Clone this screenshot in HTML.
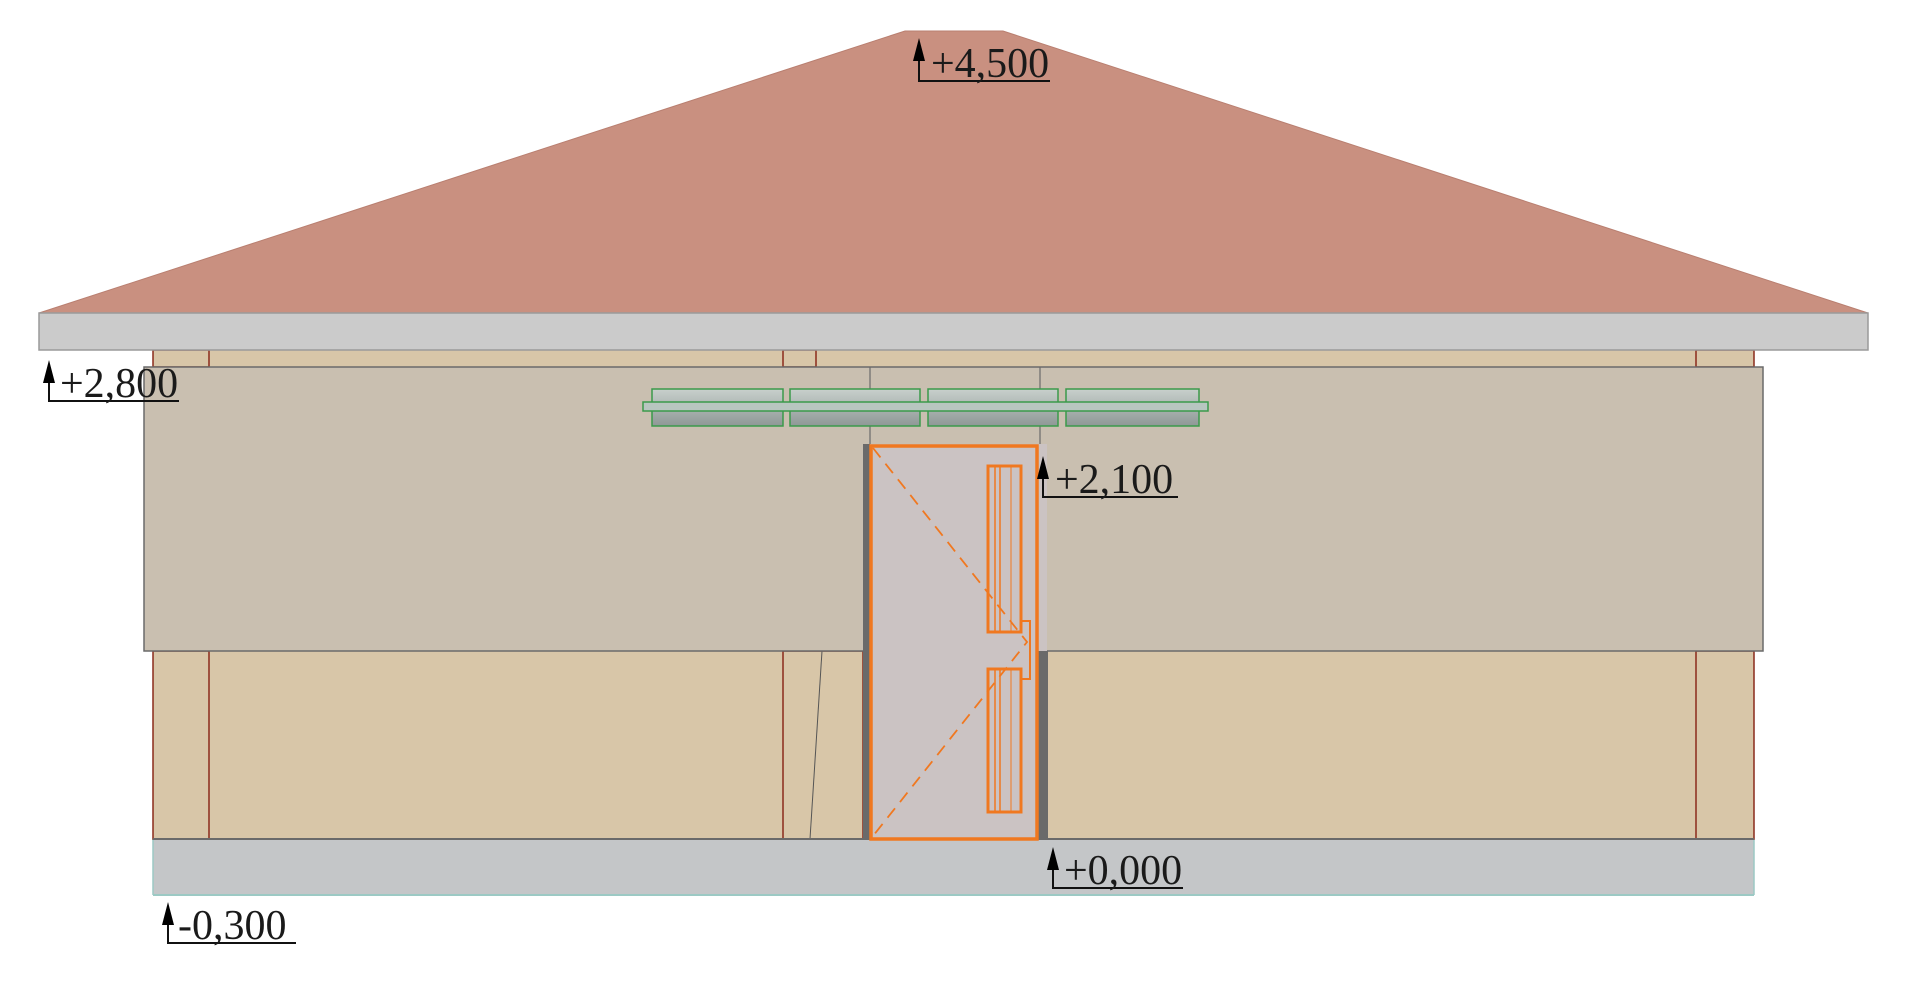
<!DOCTYPE html>
<html><head><meta charset="utf-8"><style>
html,body{margin:0;padding:0;background:#fff;}
svg{display:block;}
text{font-family:"Liberation Serif",serif;font-size:42px;fill:#1a1a1a;}
</style></head><body>
<svg width="1920" height="984" viewBox="0 0 1920 984" xmlns="http://www.w3.org/2000/svg">
<rect width="1920" height="984" fill="#fff"/>
<!-- roof -->
<polygon points="39,313 905,31 1003,31 1868,313" fill="#c99080" stroke="#b97f70" stroke-width="1"/>
<!-- strip under fascia -->
<rect x="153" y="350" width="1601" height="17" fill="#d8c6a8"/>
<rect x="153" y="350" width="56" height="17" fill="#d8c6a8" stroke="#8a2a1a" stroke-width="1.5"/>
<rect x="783" y="350" width="33" height="17" fill="#d8c6a8" stroke="#8a2a1a" stroke-width="1.5"/>
<rect x="1696" y="350" width="58" height="17" fill="#d8c6a8" stroke="#8a2a1a" stroke-width="1.5"/>
<!-- fascia -->
<rect x="39" y="313" width="1829" height="37" fill="#cbcbcb" stroke="#9a9a9a" stroke-width="1.5"/>
<!-- plinth -->
<rect x="153" y="839" width="1601" height="56" fill="#c4c6c8"/>
<line x1="153" y1="895" x2="1754" y2="895" stroke="#9cc9c4" stroke-width="2"/>
<line x1="153" y1="839" x2="153" y2="895" stroke="#9cc9c4" stroke-width="1.5"/>
<line x1="1754" y1="839" x2="1754" y2="895" stroke="#9cc9c4" stroke-width="1.5"/>
<!-- lower wall -->
<rect x="153" y="651" width="1601" height="188" fill="#d8c6a8"/>
<rect x="153" y="651" width="56" height="188" fill="#d8c6a8" stroke="#8a2a1a" stroke-width="1.5"/>
<rect x="783" y="651" width="80" height="188" fill="#d8c6a8" stroke="#8a2a1a" stroke-width="1.5"/>
<rect x="1696" y="651" width="58" height="188" fill="#d8c6a8" stroke="#8a2a1a" stroke-width="1.5"/>
<line x1="822" y1="651" x2="810" y2="839" stroke="#555" stroke-width="1"/>
<line x1="153" y1="839" x2="1754" y2="839" stroke="#6a6a6a" stroke-width="2"/>
<!-- upper band -->
<rect x="144" y="367" width="1619" height="284" fill="#c9bfb0" stroke="#6a6a6a" stroke-width="1.5"/>
<line x1="870" y1="367" x2="870" y2="444" stroke="#6a6a6a" stroke-width="1.2"/>
<line x1="1040" y1="367" x2="1040" y2="444" stroke="#6a6a6a" stroke-width="1.2"/>
<!-- door -->
<rect x="863" y="444" width="184" height="395" fill="#cbc3c3"/>
<rect x="863" y="444" width="7" height="395" fill="#6a6a6a"/>
<rect x="1038" y="651" width="10" height="188" fill="#6a6a6a"/>
<rect x="871" y="446" width="166" height="393" fill="#cbc3c3" stroke="#f07820" stroke-width="3.5"/>
<polyline points="873,448 1027,642 873,836" fill="none" stroke="#f07820" stroke-width="1.8" stroke-dasharray="12,8"/>
<rect x="988" y="466" width="33" height="166" fill="none" stroke="#f07820" stroke-width="3"/>
<line x1="995" y1="466" x2="995" y2="632" stroke="#f07820" stroke-width="1.5"/>
<line x1="1000" y1="466" x2="1000" y2="632" stroke="#f07820" stroke-width="1.5"/>
<line x1="1011" y1="466" x2="1011" y2="632" stroke="#f07820" stroke-width="1"/>
<rect x="988" y="669" width="33" height="143" fill="none" stroke="#f07820" stroke-width="3"/>
<line x1="995" y1="669" x2="995" y2="812" stroke="#f07820" stroke-width="1.5"/>
<line x1="1000" y1="669" x2="1000" y2="812" stroke="#f07820" stroke-width="1.5"/>
<line x1="1011" y1="669" x2="1011" y2="812" stroke="#f07820" stroke-width="1"/>
<polyline points="1021,621 1030,621 1030,679 1021,679" fill="none" stroke="#f07820" stroke-width="2"/>
<!-- window shelf -->
<defs><linearGradient id="g" x1="0" y1="0" x2="0" y2="1"><stop offset="0" stop-color="#c8d0cc"/><stop offset="1" stop-color="#8e9896"/></linearGradient></defs>
<g stroke="#3a9a4a" stroke-width="1.5" fill="url(#g)">
<rect x="652" y="389" width="131" height="37"/>
<rect x="790" y="389" width="130" height="37"/>
<rect x="928" y="389" width="130" height="37"/>
<rect x="1066" y="389" width="133" height="37"/>
<rect x="643" y="402" width="565" height="9" fill="#b8c6c0"/>
</g>
<!-- level marks -->
<g stroke="#111" stroke-width="2" fill="none">
<polyline points="919,44 919,81 1050,81"/>
<polyline points="49,366 49,401 179,401"/>
<polyline points="1043,462 1043,497 1178,497"/>
<polyline points="1053,853 1053,888 1183,888"/>
<polyline points="168,908 168,943 296,943"/>
</g>
<g fill="#000">
<polygon points="919,38 913,61 925,61"/>
<polygon points="49,360 43,383 55,383"/>
<polygon points="1043,456 1037,479 1049,479"/>
<polygon points="1053,847 1047,870 1059,870"/>
<polygon points="168,902 162,925 174,925"/>
</g>
<text x="931" y="77">+4,500</text>
<text x="60" y="397">+2,800</text>
<text x="1055" y="493">+2,100</text>
<text x="1064" y="884">+0,000</text>
<text x="178" y="939">-0,300</text>
</svg>
</body></html>
